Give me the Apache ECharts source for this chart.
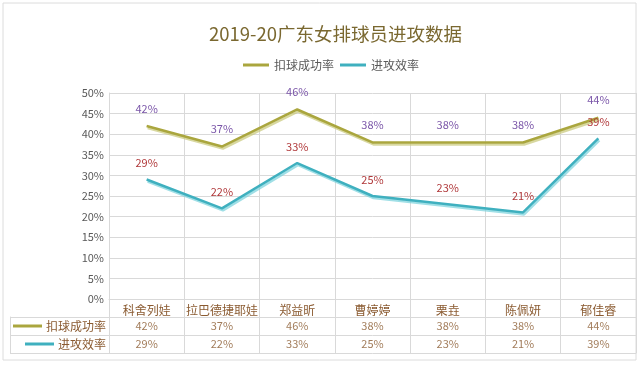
<!DOCTYPE html>
<html><head><meta charset="utf-8">
<script src="https://cdn.jsdelivr.net/npm/echarts@6/dist/echarts.min.js"></script>
<style>html,body{margin:0;padding:0;background:#fff;}#c{width:640px;height:370px;}</style>
</head><body><div id="c"></div>
<script>
var categories = ['科舍列娃','拉巴德捷耶娃','郑益昕','曹婷婷','栗垚','陈佩妍','郁佳睿'];
var seriesNames = ['扣球成功率','进攻效率'];
var spikeRate = [42, 37, 46, 38, 38, 38, 44];
var attackEff = [29, 22, 33, 25, 23, 21, 39];
var yTicks = [0, 5, 10, 15, 20, 25, 30, 35, 40, 45, 50];

var FONT = '"Noto Sans CJK SC", sans-serif';
var OLIVE = '#aaa63e', CYAN = '#3fb0bf';
var GRID = '#d9d9d9', BROWN = '#8a5a30';

function cells(vals, row) {
  return vals.map(function (v, i) { return [categories[i], seriesNames[row], v]; });
}

var chart = echarts.init(document.getElementById('c'));
chart.setOption({
  backgroundColor: '#fff',
  textStyle: { fontFamily: FONT },
  title: {
    text: '2019-20广东女排球员进攻数据', left: 204, top: 20,
    textStyle: { fontFamily: FONT, fontSize: 18.5, fontWeight: 'normal', color: '#7a6830' }
  },
  legend: {
    data: seriesNames, left: 238, top: 54, itemWidth: 26, itemHeight: 3, itemGap: 6,
    icon: 'rect',
    textStyle: { fontFamily: FONT, fontSize: 12, color: '#595959' }
  },
  graphic: [{
    type: 'rect', shape: { x: 3, y: 3, width: 633, height: 357 },
    style: { fill: 'none', stroke: '#dcdcdc', lineWidth: 1 }, silent: true
  }],
  grid: [
    { left: 109, right: 4, top: 93, bottom: 71 },
    { left: 109, right: 4, top: 317, height: 36 }
  ],
  xAxis: [{
    type: 'category', data: categories, gridIndex: 0, boundaryGap: true,
    axisLine: { lineStyle: { color: GRID } },
    axisTick: { show: true, length: 18, lineStyle: { color: GRID } },
    axisLabel: { color: BROWN, fontSize: 12, margin: 5, fontFamily: FONT, interval: 0 },
    splitLine: { show: true, lineStyle: { color: GRID } }
  }, {
    type: 'category', data: categories, gridIndex: 1, boundaryGap: true, position: 'top',
    axisLine: { show: true, lineStyle: { color: GRID } }, axisTick: { show: false }, axisLabel: { show: false },
    splitLine: { show: true, interval: 0, lineStyle: { color: GRID } }
  }],
  yAxis: [{
    type: 'value', gridIndex: 0, min: 0, max: 50, interval: 5,
    axisLine: { show: true, lineStyle: { color: GRID } },
    axisTick: { show: false },
    axisLabel: { formatter: '{value}%', color: '#595959', fontSize: 11, margin: 5 },
    splitLine: { show: true, lineStyle: { color: GRID } }
  }, {
    type: 'category', gridIndex: 1, data: seriesNames, inverse: true,
    axisLine: { show: true, lineStyle: { color: GRID } },
    axisTick: { show: true, length: 99, lineStyle: { color: GRID } },
    axisLabel: {
      margin: 3, fontSize: 12, color: BROWN, fontFamily: FONT,
      formatter: function (v, i) { return '{k' + i + '|}{s|}{t|' + v + '}'; },
      rich: {
        k0: { width: 29, height: 3, backgroundColor: OLIVE },
        k1: { width: 29, height: 3, backgroundColor: CYAN },
        s: { width: 4 },
        t: { fontSize: 12, color: BROWN, fontFamily: FONT }
      }
    },
    splitLine: { show: true, lineStyle: { color: GRID } }
  }, {
    type: 'category', gridIndex: 1, data: seriesNames, inverse: true, offset: 99, position: 'left',
    axisLine: { show: true, lineStyle: { color: GRID } },
    axisTick: { show: false }, axisLabel: { show: false }
  }, {
    type: 'category', gridIndex: 1, data: seriesNames, inverse: true, position: 'right',
    axisLine: { show: true, lineStyle: { color: GRID } },
    axisTick: { show: false }, axisLabel: { show: false }
  }],
  series: [{
    name: seriesNames[0], type: 'line', xAxisIndex: 0, yAxisIndex: 0, data: spikeRate,
    symbol: 'circle', symbolSize: 0, color: OLIVE,
    lineStyle: { width: 2.5, color: OLIVE, shadowColor: 'rgba(200,200,120,0.7)', shadowBlur: 0, shadowOffsetX: 1, shadowOffsetY: 2 },
    label: { show: true, position: 'top', distance: 12, formatter: '{c}%', color: '#7a55a8', fontSize: 11 }
  }, {
    name: seriesNames[1], type: 'line', xAxisIndex: 0, yAxisIndex: 0, data: attackEff,
    symbol: 'circle', symbolSize: 0, color: CYAN,
    lineStyle: { width: 2.5, color: CYAN, shadowColor: 'rgba(120,210,220,0.7)', shadowBlur: 0, shadowOffsetX: 1, shadowOffsetY: 2 },
    label: { show: true, position: 'top', distance: 11, formatter: '{c}%', color: '#b0383a', fontSize: 11 }
  }, {
    type: 'scatter', xAxisIndex: 1, yAxisIndex: 1, data: cells(spikeRate, 0),
    symbolSize: 2, itemStyle: { color: 'rgba(0,0,0,0)' }, silent: true,
    labelLayout: { hideOverlap: false },
    label: { show: true, position: 'inside', formatter: function (p) { return p.data[2] + '%'; }, color: BROWN, fontSize: 11 }
  }, {
    type: 'scatter', xAxisIndex: 1, yAxisIndex: 1, data: cells(attackEff, 1),
    symbolSize: 2, itemStyle: { color: 'rgba(0,0,0,0)' }, silent: true,
    labelLayout: { hideOverlap: false },
    label: { show: true, position: 'inside', formatter: function (p) { return p.data[2] + '%'; }, color: BROWN, fontSize: 11 }
  }]
});
</script></body></html>
